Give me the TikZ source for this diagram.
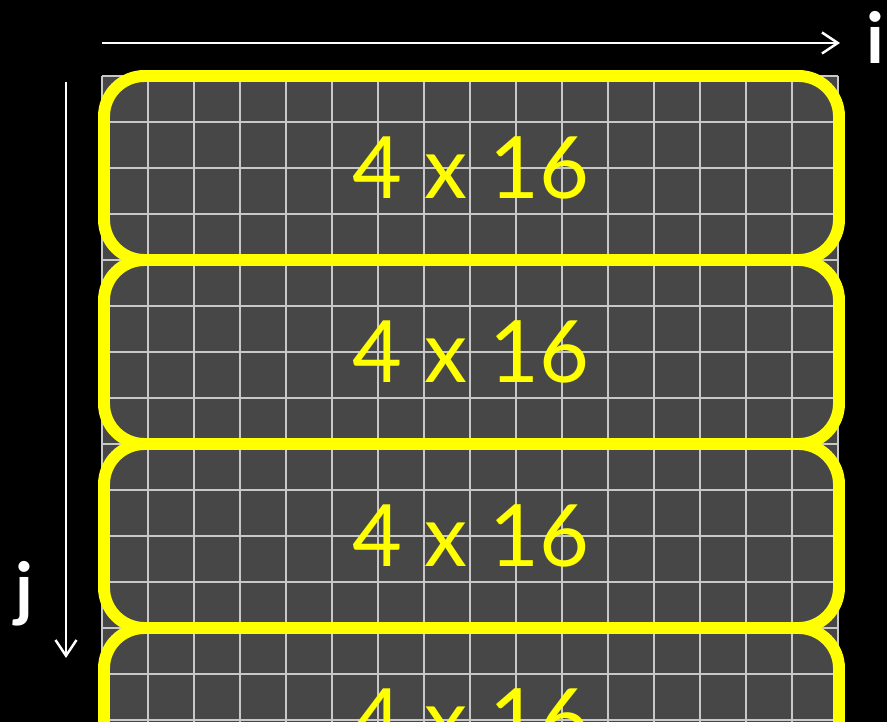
\documentclass[tikz,border=0pt]{standalone}
\usepackage{fontspec}
\setmainfont{Lato}
\usetikzlibrary{arrows.meta}
\definecolor{cellgray}{HTML}{474747}
\definecolor{gridline}{HTML}{C8C8C8}
\definecolor{tileyellow}{HTML}{FFFF00}
\tikzset{
  axis/.style={white, line width=1.4pt, -{Straight Barb[length=9pt,width=12pt,line width=1.4pt]}},
  axislabel/.style={white, font=\fontsize{40}{40}\selectfont\bfseries},
  tile/.style={draw=tileyellow, line width=6.8pt, rounded corners=23pt},
  tilelabel/.style={text=tileyellow, font=\fontsize{49}{49}\selectfont},
}
\begin{document}
\begin{tikzpicture}[x=0.02cm,y=-0.02cm]
    % --- sfondo e ritaglio ---
    \fill[black] (0,0) rectangle (887,722);
    \useasboundingbox (0,0) rectangle (887,722);
    \clip (0,0) rectangle (887,722);
    % --- celle della matrice ---
    \fill[cellgray] (102,76) rectangle (838,770);
    \foreach \c in {0,...,16}
        \draw[gridline,line width=0.8pt] ({102+46*\c},76) -- ({102+46*\c},770);
    \foreach \r in {0,...,15}
        \draw[gridline,line width=0.8pt] (102,{76+46*\r}) -- (838,{76+46*\r});
    % --- blocchi 4 x 16 ---
    \foreach \t in {0,...,3} {
        \draw[tile] (104,{76+184*\t}) rectangle (839,{260+184*\t});
        \node[tilelabel] (tile\t) at (471,{168+184*\t}) {4 x 16};
    }
    % --- assi ---
    \coordinate (istart) at (102,43);
    \coordinate (iend) at (840,43);
    \draw[axis] (istart) -- (iend);
    \node[axislabel] (ilabel) at (875,37) {i};
    \coordinate (jstart) at (66,82);
    \coordinate (jend) at (66,658);
    \draw[axis] (jstart) -- (jend);
    \node[axislabel] (jlabel) at (24,594) {j};
\end{tikzpicture}
\end{document}
